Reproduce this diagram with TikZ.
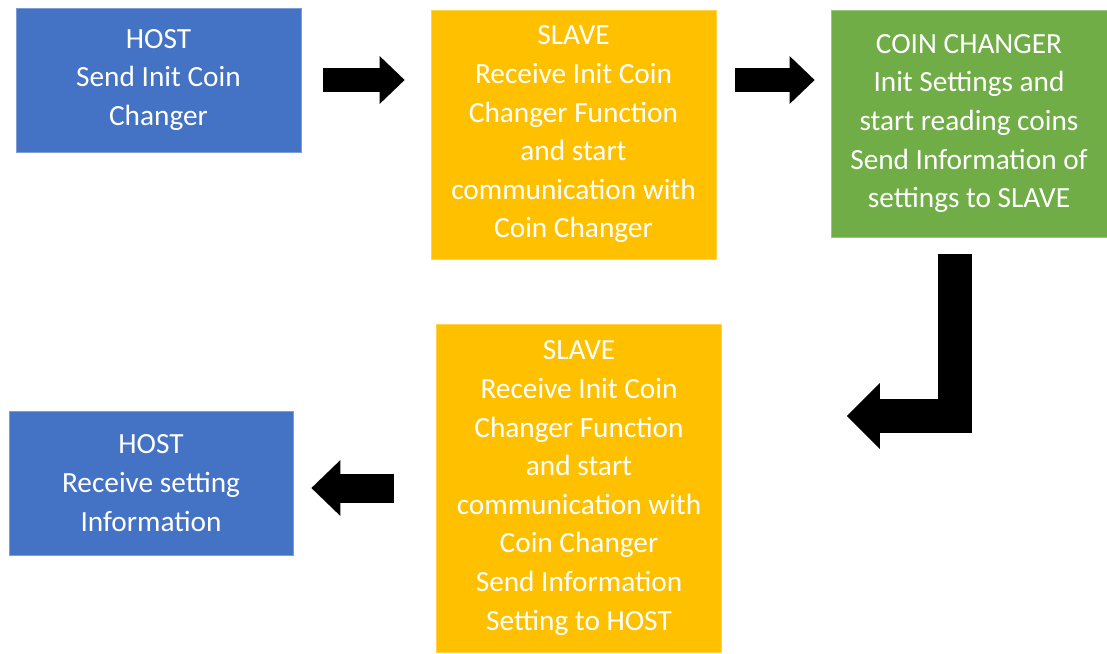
\documentclass[tikz,border=0pt]{standalone}
\usepackage{fontspec}
\setmainfont{Carlito}
\usetikzlibrary{arrows.meta, positioning, calc}
\definecolor{hostblue}{HTML}{4472C4}
\definecolor{slaveorange}{HTML}{FFC000}
\definecolor{coingreen}{HTML}{70AD47}
\tikzstyle{box} = [rectangle, text=white, align=center, inner sep=0pt, line width=0.8pt, font=\fontsize{29.3pt}{38.6pt}\selectfont]
\tikzstyle{host} = [box, fill=hostblue, draw=hostblue!70!white, minimum width=285pt, minimum height=144pt]
\tikzstyle{slave} = [box, fill=slaveorange, draw=slaveorange!70!white, minimum width=285pt]
\tikzstyle{coin} = [box, fill=coingreen, draw=coingreen!70!white, minimum width=276pt, minimum height=227pt]
\tikzstyle{bigarrow} = [draw=black, line width=24pt, -{Triangle[length=25pt, width=48pt, line width=0pt]}]

\begin{document}
\begin{tikzpicture}[x=1pt, y=1pt]
    \useasboundingbox (0,0) rectangle (1107,-653);

    \node (host1) [host] at (158.5,-80) {HOST\\Send Init Coin\\Changer};
    \node (slave1) [slave, minimum height=249pt] at (573.5,-134.5) {SLAVE\\Receive Init Coin\\Changer Function\\and start\\communication with\\Coin Changer};
    \node (coin) [coin] at (969,-123.5) {COIN CHANGER\\Init Settings and\\start reading coins\\Send Information of\\settings to SLAVE};
    \node (slave2) [slave, minimum height=328pt] at (579,-488) {SLAVE\\Receive Init Coin\\Changer Function\\and start\\communication with\\Coin Changer\\Send Information\\Setting to HOST};
    \node (host2) [host, minimum width=284pt] at (151,-483) {HOST\\Receive setting\\Information};

    % Top row
    \draw [bigarrow, shorten <=22pt, shorten >=26pt] (host1.east) -- (host1.east -| slave1.west);
    \draw [bigarrow, shorten <=19pt, shorten >=16pt] (slave1.east |- host1.east) -- (coin.west |- host1.east);

    % Down and back
    \draw [bigarrow, line width=34pt, -{Triangle[length=33pt, width=66pt, line width=0pt]}, shorten <=17pt, shorten >=125pt]
        ([xshift=-14pt]coin.south) |- ([yshift=72pt]slave2.east);
    \draw [bigarrow, line width=29pt, -{Triangle[length=29pt, width=56pt, line width=0pt]}, shorten <=42pt, shorten >=18pt]
        (slave2.west) -- (slave2.west -| host2.east);
\end{tikzpicture}
\end{document}
